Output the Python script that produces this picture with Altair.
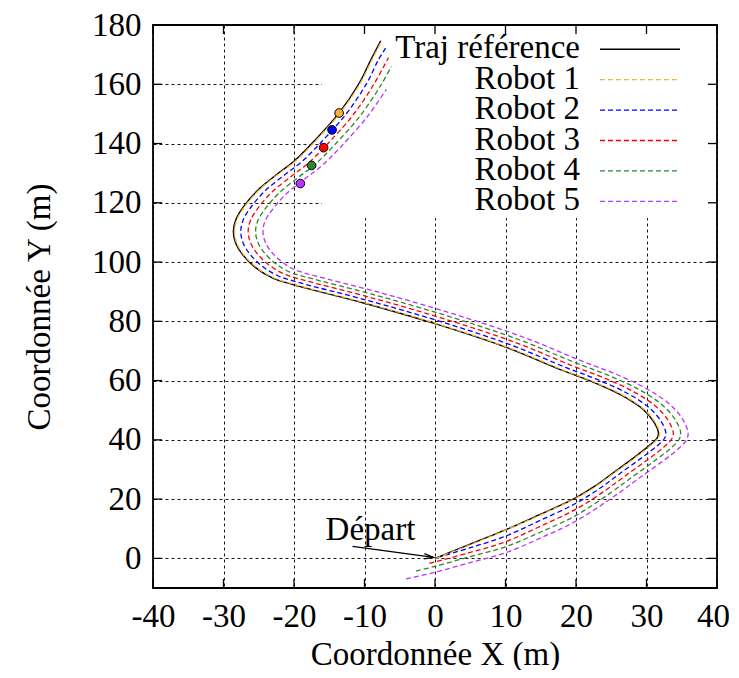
import altair as alt
import pandas as pd

# ---------------- data ----------------
ref_x = [0, 5, 10, 15, 17.5, 20, 22.5, 25, 28.5, 30.5, 31.5, 31.7, 31.1, 29.5, 26.5, 22, 18, 10, 0, -10, -20, -23,
         -25.5, -27.3, -28.3, -28.6, -28.2, -27.0, -24.9, -22.1, -20, -17.3, -13.55, -10.7, -9.05, -7.7]
ref_y = [0, 4.8, 9.6, 14.9, 17.6, 20.5, 24.1, 28.4, 34.5, 38.3, 40.6, 42.2, 45.8, 50.3, 55.0, 59.9, 63.5, 71.3, 79.2, 86.1, 92.3, 94.6,
         98.2, 102.5, 106.5, 110.5, 114.6, 119.2, 124.8, 130.2, 134.0, 140.4, 150.5, 160.6, 168.5, 174.7]

r1_x = [0.1, 5, 10, 15, 20, 22.62, 25.13, 28.63, 30.64, 31.65, 31.85, 31.24, 29.62, 26.61, 22.10, 18.10, 10.10, 0.09, -9.92, -19.91, -22.89,
        -25.37, -27.16, -28.15, -28.45, -28.05, -26.86, -24.77, -21.97, -19.86, -17.16, -13.41, -10.55, -8.90, -7.55]
r1_y = [0.0, 4.6, 9.5, 14.7, 20.3, 24.0, 28.32, 34.43, 38.25, 40.58, 42.21, 45.85, 50.38, 55.11, 60.01, 63.61, 71.41, 79.32, 86.23, 92.42, 94.70,
        98.28, 102.55, 106.52, 110.49, 114.57, 119.15, 124.73, 130.13, 133.94, 140.35, 150.46, 160.57, 168.47, 174.65]

r2_x = [0.4, 5, 10, 15, 20, 23.34, 25.89, 29.43, 31.49, 32.54, 32.75, 32.09, 30.37, 27.25, 22.72, 18.69, 10.68, 0.63, -9.43, -19.37, -22.22,
        -24.59, -26.30, -27.25, -27.55, -27.18, -26.01, -23.97, -21.19, -19.03, -16.31, -12.54, -9.67, -8.02, -7.0]
r2_y = [0.3, 3.6, 7.5, 12.9, 18.6, 23.57, 28.05, 34.13, 37.93, 40.44, 42.25, 46.17, 50.88, 55.74, 60.66, 64.29, 72.10, 80.04, 86.98, 93.14, 95.30,
        98.73, 102.82, 106.61, 110.45, 114.37, 118.83, 124.32, 129.68, 133.58, 140.03, 150.21, 160.38, 168.29, 172.2]

r3_x = [-0.8, 0, 5, 10, 15, 20, 24.18, 26.79, 30.37, 32.47, 33.58, 33.80, 33.07, 31.24, 27.99, 23.45, 19.39, 11.37, 1.26, -8.87, -18.74,
        -21.45, -23.67, -25.31, -26.20, -26.50, -26.16, -25.03, -23.03, -20.27, -18.07, -15.33, -11.53, -8.64, -6.6]
r3_y = [-1.7, -1.2, 2.0, 5.6, 10.9, 16.6, 22.94, 27.51, 33.66, 37.57, 40.29, 42.31, 46.54, 51.46, 56.47, 61.41, 65.08, 72.90, 80.88, 87.86, 93.98,
        96.01, 99.25, 103.13, 106.71, 110.40, 114.14, 118.47, 123.83, 129.15, 133.16, 139.67, 149.91, 160.16, 169.0]

r4_x = [-2.7, 0, 5, 10, 15, 20, 25.02, 27.68, 31.30, 33.46, 34.62, 34.85, 34.06, 32.11, 28.74, 24.17, 20.08, 12.05, 1.89, -8.30, -18.11,
        -20.67, -22.76, -24.31, -25.15, -25.45, -25.14, -24.04, -22.10, -19.36, -17.10, -14.34, -10.53, -7.61, -6.2]
r4_y = [-4.3, -2.7, 0.6, 3.9, 8.9, 14.5, 22.31, 26.96, 33.18, 37.20, 40.13, 42.36, 46.90, 52.03, 57.21, 62.17, 65.86, 73.69, 81.72, 88.75, 94.82,
        96.71, 99.78, 103.45, 106.82, 110.34, 113.91, 118.10, 123.35, 128.63, 132.74, 139.30, 149.62, 159.94, 166.0]

r5_x = [-4.1, 0, 5, 10, 15, 20, 25.86, 28.57, 32.24, 34.45, 35.66, 35.90, 35.05, 32.99, 29.48, 24.90, 20.77, 12.73, 2.52, -7.73, -17.48,
        -19.89, -21.85, -23.31, -24.10, -24.40, -24.13, -23.05, -21.16, -18.45, -16.14, -13.35, -9.52, -6.9]
r5_y = [-6.9, -4.7, -1.4, 1.9, 6.9, 12.6, 21.68, 26.42, 32.71, 36.83, 39.97, 42.41, 47.27, 52.61, 57.94, 62.92, 66.65, 74.49, 82.56, 89.63, 95.66,
        97.41, 100.30, 103.76, 106.92, 110.29, 113.68, 117.73, 122.87, 128.10, 132.32, 138.93, 149.32, 158.3]

marker_x = [-13.6, -14.6, -15.8, -17.5, -19.1]
marker_y = [150.3, 144.6, 138.6, 132.6, 126.5]

labels = ["Traj référence", "Robot 1", "Robot 2", "Robot 3", "Robot 4", "Robot 5"]
colors = ["#000000", "#f5b335", "#0000ff", "#ff0000", "#2a8a2a", "#bb33ff"]

x_ticks = [-40, -30, -20, -10, 0, 10, 20, 30, 40]
y_ticks = [0, 20, 40, 60, 80, 100, 120, 140, 160, 180]

depart_label = "Départ"
depart_text_pos = (-9.15, 9.6)
arrow_shaft_x = [-11.7, -0.2]
arrow_shaft_y = [4.05, 0.3]
arrow_head_x = [-1.5, -0.2, -1.6]
arrow_head_y = [1.62, 0.3, -0.14]

# ---------------- styling ----------------
FONT = "Liberation Serif"
FS = 33
W, H = 564, 563
TICK = 9

xs = alt.Scale(domain=[-40, 40], nice=False, zero=False)
ys = alt.Scale(domain=[-10, 180], nice=False, zero=False)

common_axis = dict(labelFont=FONT, labelFontSize=FS, labelColor="black",
                   labelPadding=12, domain=False, ticks=False, grid=True, gridDash=[3, 3],
                   gridColor="black", gridOpacity=0.9, gridWidth=1, labelFlush=False,
                   titleFont=FONT, titleFontSize=FS, titleFontWeight="normal",
                   titleColor="black", labelExpr="'' + datum.value")
xaxis = alt.Axis(values=x_ticks, title="Coordonnée X (m)", titlePadding=5,
                 labelOffset={"condition": {"test": "datum.value == 40", "value": -4}, "value": 0},
                 **common_axis)
yaxis = alt.Axis(values=y_ticks, title="Coordonnée Y (m)", titlePadding=35, **common_axis)

X = alt.X("x:Q", scale=xs, axis=xaxis)
Y = alt.Y("y:Q", scale=ys, axis=yaxis)

one = pd.DataFrame({"a": [0]})
layers = []

# base layer holding the axes and grid (invisible points)
base_df = pd.DataFrame({"x": ref_x, "y": ref_y})
layers.append(alt.Chart(base_df).mark_point(opacity=0).encode(x=X, y=Y))

# white key box hiding the grid
layers.append(alt.Chart(one).mark_rect(color="white").encode(
    x=alt.value(169), x2=alt.value(W), y=alt.value(0), y2=alt.value(193)))


def path_layer(xv, yv, color, width=1.3, dash=None, interp="catmull-rom"):
    df = pd.DataFrame({"x": xv, "y": yv, "i": list(range(len(xv)))})
    kw = dict(color=color, strokeWidth=width, interpolate=interp)
    if dash:
        kw["strokeDash"] = dash
    return alt.Chart(df).mark_line(**kw).encode(x=X, y=Y, order=alt.Order("i:Q"))


robots = [(r1_x, r1_y), (r2_x, r2_y), (r3_x, r3_y), (r4_x, r4_y), (r5_x, r5_y)]
for k in [4, 3, 2, 1]:
    layers.append(path_layer(robots[k][0], robots[k][1], colors[k + 1], 1.3, [5, 3]))
layers.append(path_layer(ref_x, ref_y, colors[0], 1.4))
layers.append(path_layer(r1_x, r1_y, colors[1], 1.3, [5, 3]))

# markers
mk_df = pd.DataFrame({"x": marker_x, "y": marker_y, "c": colors[1:]})
layers.append(alt.Chart(mk_df).mark_point(filled=True, size=75, stroke="black",
                                            strokeWidth=1, opacity=1).encode(
    x=X, y=Y, fill=alt.Color("c:N", scale=None)))

# Départ annotation
layers.append(alt.Chart(pd.DataFrame({"x": [depart_text_pos[0]], "y": [depart_text_pos[1]],
                                      "t": [depart_label]})).mark_text(
    font=FONT, fontSize=FS, color="black", align="center", baseline="middle").encode(
    x=X, y=Y, text="t:N"))
layers.append(path_layer(arrow_shaft_x, arrow_shaft_y, "black", 1.3, interp="linear"))
layers.append(path_layer(arrow_head_x, arrow_head_y, "black", 1.3, interp="linear"))

# manual key
for i, (lab, col) in enumerate(zip(labels, colors)):
    ly = 24.3 + 30.4 * i
    layers.append(alt.Chart(one).mark_text(font=FONT, fontSize=FS, color="black",
                                           align="right", baseline="alphabetic").encode(
        x=alt.value(427), y=alt.value(ly + 9), text=alt.value(lab)))
    kw = dict(color=col, strokeWidth=1.4 if i == 0 else 1.3)
    if i > 0:
        kw["strokeDash"] = [5, 3]
    layers.append(alt.Chart(one).mark_rule(**kw).encode(
        x=alt.value(447), x2=alt.value(527), y=alt.value(ly)))

# inward ticks on all four sides
xt_df = pd.DataFrame({"x": x_ticks})
yt_df = pd.DataFrame({"y": y_ticks})
tick_style = dict(color="black", strokeWidth=1.3)
layers.append(alt.Chart(xt_df).mark_rule(**tick_style).encode(x=X, y=alt.value(H), y2=alt.value(H - TICK)))
layers.append(alt.Chart(xt_df).mark_rule(**tick_style).encode(x=X, y=alt.value(0), y2=alt.value(TICK)))
layers.append(alt.Chart(yt_df).mark_rule(**tick_style).encode(y=Y, x=alt.value(0), x2=alt.value(TICK)))
layers.append(alt.Chart(yt_df).mark_rule(**tick_style).encode(y=Y, x=alt.value(W), x2=alt.value(W - TICK)))

# frame
layers.append(alt.Chart(one).mark_rect(fill=None, fillOpacity=0, stroke="black", strokeWidth=1.8).encode(
    x=alt.value(0), x2=alt.value(W), y=alt.value(0), y2=alt.value(H)))

chart = alt.layer(*layers).properties(
    width=W, height=H,
    autosize=alt.AutoSizeParams(type="none"),
    padding={"left": 145, "top": 17, "right": 14, "bottom": 82},
    background="white",
).configure_view(stroke=None)

chart.save("out.html", embed_options={"renderer": "svg", "actions": False})
